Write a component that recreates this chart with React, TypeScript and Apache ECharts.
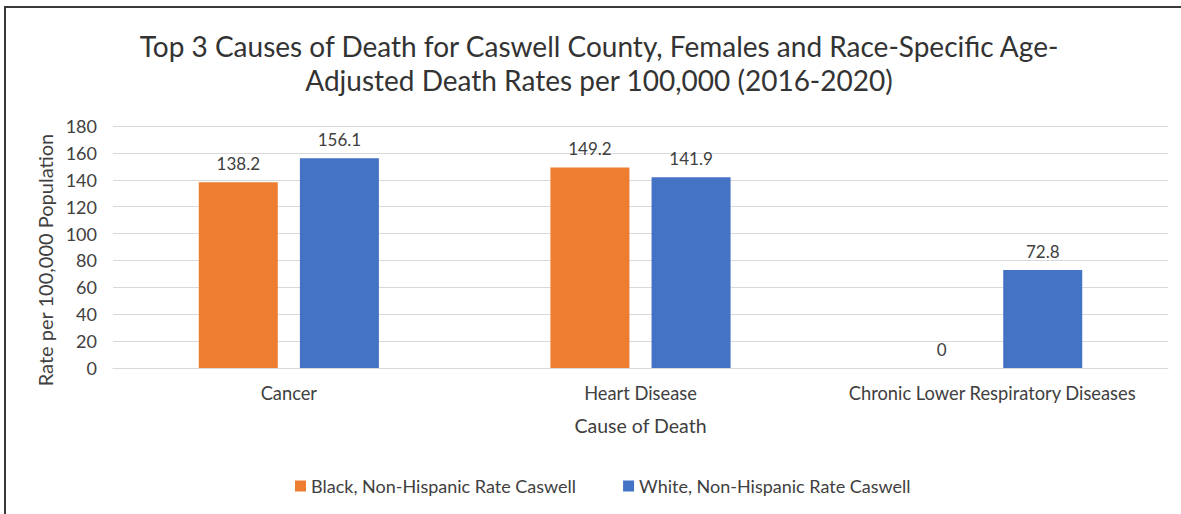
import React, { useEffect, useRef } from "react";
import * as echarts from "echarts";

const categories = ["Cancer", "Heart Disease", "Chronic Lower Respiratory Diseases"];
const blackRates = [138.2, 149.2, 0];
const whiteRates = [156.1, 141.9, 72.8];
const seriesNames = ["Black, Non-Hispanic Rate Caswell", "White, Non-Hispanic Rate Caswell"];
const titleText =
  "Top 3 Causes of Death for Caswell County, Females and Race-Specific Age-\nAdjusted Death Rates per 100,000 (2016-2020)";

const FONT = "Lato";
const TEXT = "#404040";

export default function App() {
  const ref = useRef<HTMLDivElement>(null);
  useEffect(() => {
    document.body.style.margin = "0";
    const chart = echarts.init(ref.current!, null, { renderer: "svg" });
    chart.setOption({
      animation: false,
      backgroundColor: "#ffffff",
      textStyle: { fontFamily: FONT },
      title: {
        text: titleText,
        left: 599,
        top: 29,
        textAlign: "center",
        padding: 0,
        textStyle: {
          fontFamily: FONT,
          fontSize: 28,
          fontWeight: "normal",
          color: "#333333",
          lineHeight: 34,
        },
      },
      legend: {
        data: seriesNames,
        left: 295,
        top: 477,
        itemWidth: 11,
        itemHeight: 11,
        itemGap: 47,
        padding: 0,
        icon: "rect",
        textStyle: { fontFamily: FONT, fontSize: 18, color: TEXT, padding: [0, 0, 0, 0] },
      },
      grid: { left: 113, right: 13, top: 126, bottom: 146, containLabel: false },
      xAxis: {
        type: "category",
        data: categories,
        name: "Cause of Death",
        nameLocation: "middle",
        nameGap: 47,
        nameTextStyle: { fontFamily: FONT, fontSize: 19.5, color: TEXT },
        axisLine: { lineStyle: { color: "#d9d9d9" } },
        axisTick: { show: false },
        axisLabel: { margin: 16, fontFamily: FONT, fontSize: 18.3, color: TEXT, interval: 0 },
      },
      yAxis: {
        type: "value",
        min: 0,
        max: 180,
        interval: 20,
        name: "Rate per 100,000 Population",
        nameLocation: "middle",
        nameGap: 55,
        nameRotate: 90,
        nameTextStyle: { fontFamily: FONT, fontSize: 20, color: TEXT, padding: [0, 26, 0, 0] },
        axisLine: { show: false },
        axisTick: { show: false },
        splitLine: { lineStyle: { color: "#d9d9d9", width: 1 } },
        axisLabel: { margin: 16, fontFamily: FONT, fontSize: 18, color: TEXT },
      },
      series: [
        {
          name: seriesNames[0],
          type: "bar",
          data: blackRates,
          barWidth: 79,
          barGap: "28%",
          itemStyle: { color: "#ED7D31" },
          label: {
            show: true,
            position: "top",
            distance: 10,
            fontFamily: FONT,
            fontSize: 17,
            color: TEXT,
          },
        },
        {
          name: seriesNames[1],
          type: "bar",
          data: whiteRates,
          barWidth: 79,
          barGap: "28%",
          itemStyle: { color: "#4472C4" },
          label: {
            show: true,
            position: "top",
            distance: 10,
            fontFamily: FONT,
            fontSize: 17,
            color: TEXT,
          },
        },
      ],
      graphic: [
        {
          type: "polyline",
          shape: { points: [[5, 514], [5, 7], [1181, 7]] },
          style: { stroke: "#3a3a3a", lineWidth: 2, fill: "none" },
        },
      ],
    });
    return () => chart.dispose();
  }, []);
  return <div ref={ref} style={{ width: 1181, height: 514 }} />;
}
